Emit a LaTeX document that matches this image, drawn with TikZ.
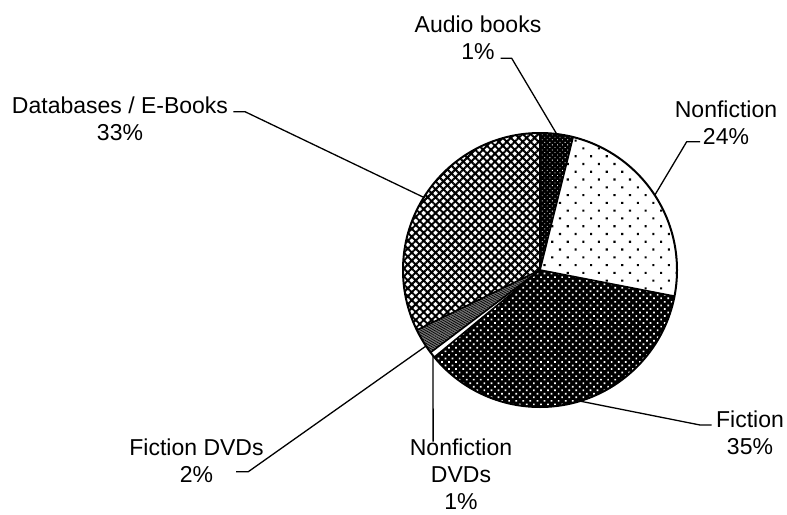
\documentclass[tikz,border=0pt]{standalone}
\usepackage{fontspec}
\setmainfont{Liberation Sans}
\usetikzlibrary{patterns.meta}
\newcommand{\pieslice}[2]{(0,0) -- (#1:68.5pt) arc[start angle=#1, end angle=#2, radius=68.5pt] -- cycle}
\tikzset{
  lbl/.style={font=\fontsize{11.5}{13.5}\selectfont, align=center, anchor=north, inner sep=0pt},
  conn/.style={line width=0.65pt, line join=round},
  sliceline/.style={line width=0.8pt, line join=round}
}
\begin{document}
\begin{tikzpicture}[x=0.5pt,y=-0.5pt]
\useasboundingbox (0,0) rectangle (787,514);
\fill[white] (0,0) rectangle (787,514);

\begin{scope}[shift={(540,270)}]
  % Databases / E-Books
  \fill[pattern={Hatch[angle=45,distance=2.8pt,line width=1pt]}, pattern color=black] \pieslice{90}{206};
  % Audio books
  \fill[black] \pieslice{76}{90};
  \fill[pattern={Dots[radius=0.3pt,distance=1.8pt,angle=45]}, pattern color=white] \pieslice{76}{90};
  % Nonfiction
  \fill[pattern={Dots[radius=0.75pt,distance=5.5pt,angle=45]}, pattern color=black] \pieslice{-11}{76};
  % Fiction
  \fill[black] \pieslice{-140.5}{-11};
  \fill[pattern={Dots[radius=0.6pt,distance=2.5pt,angle=45]}, pattern color=white] \pieslice{-140.5}{-11};
  % Fiction DVDs
  \fill[black!55] \pieslice{-154}{-143};
  \fill[pattern={Lines[angle=-30,distance=1.1pt,line width=0.35pt]}, pattern color=black] \pieslice{-154}{-143};
  % Nonfiction DVDs
  \fill[white] \pieslice{-143}{-140.5};
  % outlines
  \draw[sliceline] (0,0) -- (90:68.5pt);
  \draw[sliceline] (0,0) -- (76:68.5pt);
  \draw[sliceline] (0,0) -- (-11:68.5pt);
  \draw[sliceline] (0,0) -- (-140.5:68.5pt);
  \draw[sliceline] (0,0) -- (-143:68.5pt);
  \draw[sliceline] (0,0) -- (-154:68.5pt);
  \draw[line width=1pt] (0,0) circle[radius=68.5pt];
  % edge points for connectors
  \coordinate (eAudio) at (83:68.5pt);
  \coordinate (eNf) at (33.1:68.5pt);
  \coordinate (eDb) at (148:68.5pt);
  \coordinate (eFdvd) at (-146.3:68.5pt);
  \coordinate (eNfdvd) at (-141.3:68.5pt);
  \coordinate (eFic) at (-73.1:68.5pt);
\end{scope}

% labels
\node[lbl] (audio) at (478,15.2) {Audio books\\1\%};
\node[lbl] (db) at (120,96.8) {Databases / E-Books\\33\%};
\node[lbl] (nf) at (726,100.2) {Nonfiction\\24\%};
\node[lbl] (nfdvd) at (461,438.5) {Nonfiction\\DVDs\\1\%};
\node[lbl] (fdvd) at (196.5,438.5) {Fiction DVDs\\2\%};
\node[lbl] (fic) at (750,410.2) {Fiction\\35\%};

% connector stubs
\coordinate (audioA) at (500.7,58.3);
\coordinate (audioB) at (511.7,58.3);
\coordinate (nfA) at (700,141.7);
\coordinate (nfB) at (686.7,141.7);
\coordinate (dbA) at (233.3,111.7);
\coordinate (dbB) at (245,111.7);
\coordinate (fdvdA) at (236,471.7);
\coordinate (fdvdB) at (248.3,471.7);
\coordinate (nfdvdA) at (433.1,441.7);
\coordinate (ficA) at (711.7,425);
\coordinate (ficB) at (700,425);

\draw[conn] (audioA) -- (audioB) -- (eAudio);
\draw[conn] (nfA) -- (nfB) -- (eNf);
\draw[conn] (dbA) -- (dbB) -- (eDb);
\draw[conn] (fdvdA) -- (fdvdB) -- (eFdvd);
\draw[conn] (nfdvdA) -- (eNfdvd);
\draw[conn] (ficA) -- (ficB) -- (eFic);
\end{tikzpicture}
\end{document}
